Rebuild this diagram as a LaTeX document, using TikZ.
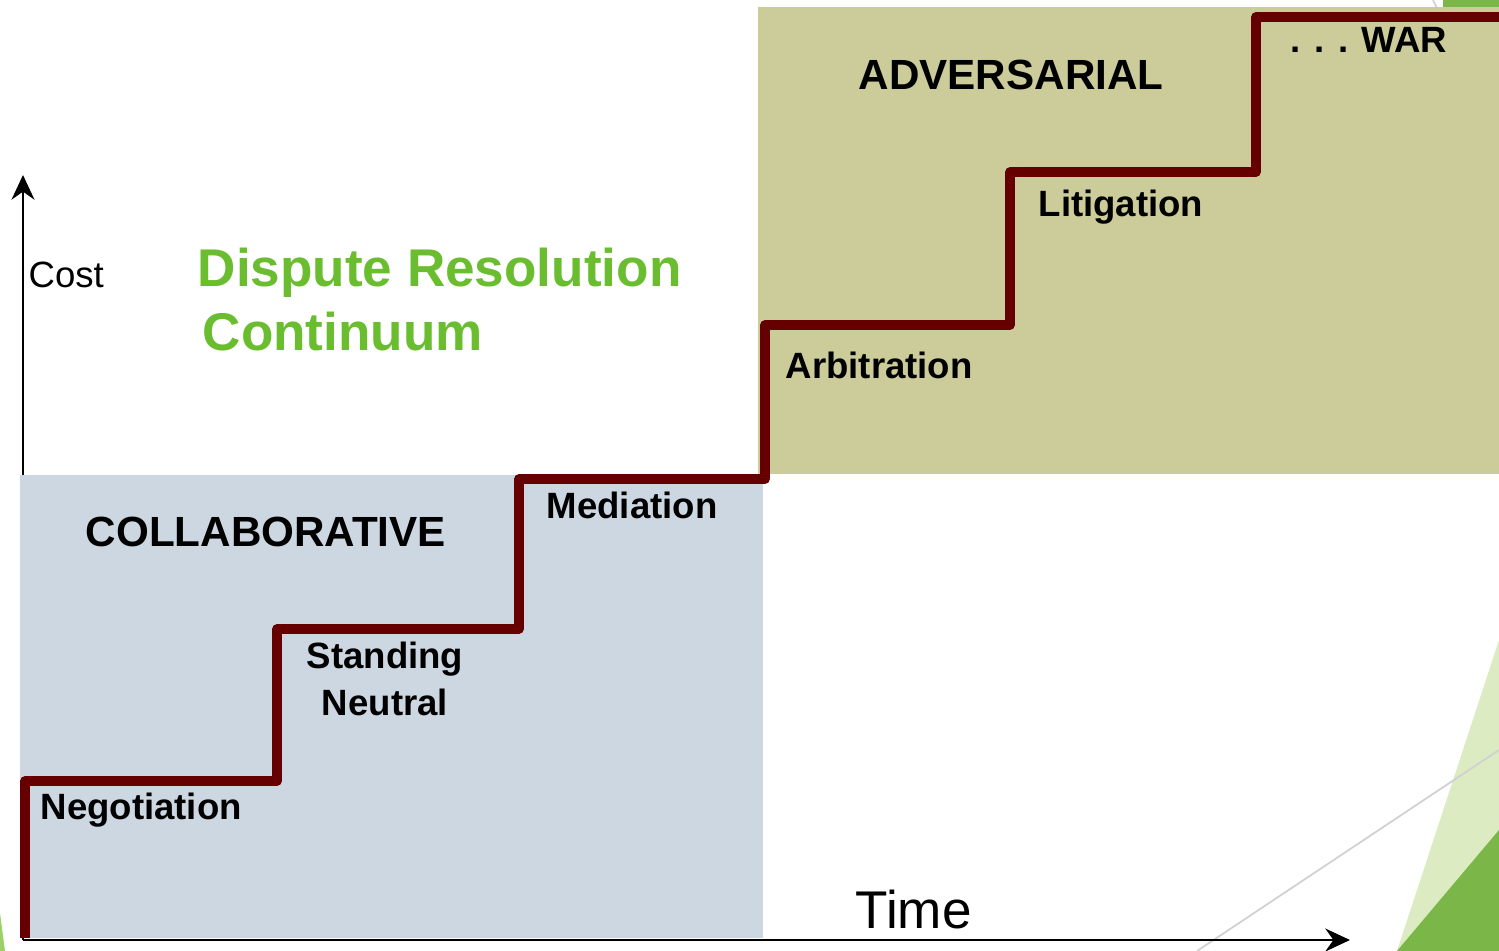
\documentclass[tikz,border=0pt]{standalone}
\usepackage{fontspec}
\setmainfont{Liberation Sans}
\usetikzlibrary{arrows.meta}
\definecolor{collab}{HTML}{CDD7E1}
\definecolor{advers}{HTML}{CCCB9A}
\definecolor{stair}{HTML}{660000}
\definecolor{titlegreen}{HTML}{6ABD2E}
\definecolor{lightleaf}{HTML}{DDEBC3}
\definecolor{darkleaf}{HTML}{7AB648}
\begin{document}
\begin{tikzpicture}[x=0.01cm,y=-0.01cm]
\tikzstyle{step label}=[anchor=base west,inner sep=0pt,font=\fontsize{10.4}{12}\selectfont\bfseries]
\tikzstyle{zone label}=[anchor=base west,inner sep=0pt,font=\fontsize{12}{14}\selectfont\bfseries]
\tikzstyle{title}=[anchor=base west,inner sep=0pt,text=titlegreen,font=\fontsize{15.1}{18}\selectfont\bfseries]
\tikzstyle{axis}=[line width=0.8pt,-{Stealth[length=7pt,width=6.5pt]}]
\useasboundingbox (0,0) rectangle (1499,951);

% background leaves
\fill[lightleaf] (1499,640) -- (1499,951) -- (1397,951) -- cycle;
\fill[darkleaf] (1499,830) -- (1499,951) -- (1397,951) -- cycle;
\draw[black!18,line width=0.5pt] (1197,951) -- (1499,750);
\fill[darkleaf] (1443,0) -- (1499,0) -- (1499,8) -- (1443,8) -- cycle;
\draw[black!18,line width=0.5pt] (1433,0) -- (1437,8);
\fill[green!50!yellow!70!black!60] (0,913) -- (5,951) -- (0,951) -- cycle;

% axes
\coordinate (o) at (23,940);
\coordinate (ytip) at (23,175);
\coordinate (xtip) at (1350,940);
\draw[axis] (o) -- (ytip);
\draw[axis] (o) -- (xtip);

% zones
\fill[collab] (20,475) rectangle (763,938);
\fill[advers] (758,7) rectangle (1499,474);

% staircase
\draw[stair,line width=2.6pt,line join=round]
  (25,938) |- (277,781) |- (519,629) |- (765,479) |- (1010,325) |- (1256,172) |- (1499,17);

\path (28,287) node[anchor=base west,inner sep=0pt,font=\fontsize{10.4}{12}\selectfont](cost){Cost};
\path (855,928) node[anchor=base west,inner sep=0pt,font=\fontsize{15.1}{18}\selectfont](time){Time};
\path (197,286) node[title](title1){Dispute Resolution};
\path (202,350) node[title](title2){Continuum};
\path (85,546) node[zone label](collabel){COLLABORATIVE};
\path (858,89) node[zone label](advlabel){ADVERSARIAL};

\path (40,819) node[step label](negot){Negotiation};
\path (385,668) node[step label,anchor=base](standing){Standing};
\path (385,715) node[step label,anchor=base](neutral){Neutral};
\path (546,518) node[step label](medi){Mediation};
\path (785,378) node[step label](arbi){Arbitration};
\path (1038,216) node[step label](liti){Litigation};
\path (1290,52) node[step label](war){. . . WAR};
\end{tikzpicture}
\end{document}
